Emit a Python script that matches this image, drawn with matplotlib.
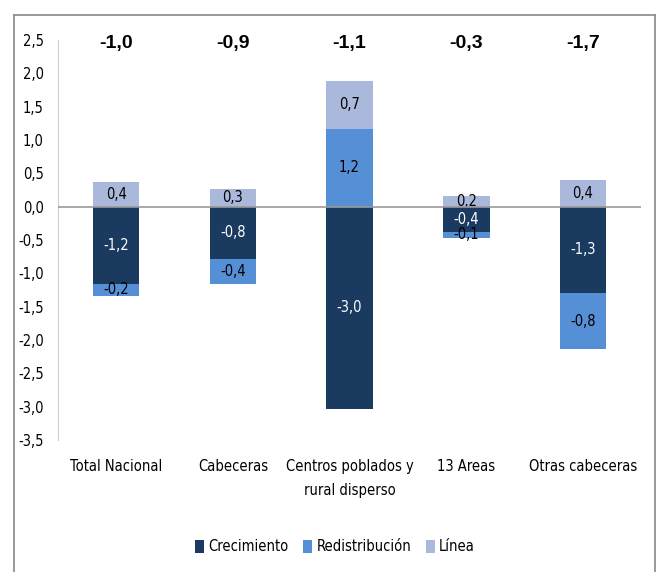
import matplotlib.pyplot as plt
from matplotlib.lines import Line2D
import numpy as np

categories = ["Total Nacional", "Cabeceras", "Centros poblados y\nrural disperso",
              "13 Areas", "Otras cabeceras"]
crecimiento = [-1.16, -0.78, -3.04, -0.38, -1.30]
redistribucion = [-0.18, -0.38, 1.17, -0.09, -0.84]
linea = [0.37, 0.26, 0.72, 0.16, 0.40]
totales = [-1.0, -0.9, -1.1, -0.3, -1.7]

series = [("Crecimiento", crecimiento, "#1b3a60", "white"),
          ("Redistribución", redistribucion, "#5590d6", "black"),
          ("Línea", linea, "#aab9db", "black")]

plt.rcParams["font.family"] = ["DejaVu Sans"]
plt.rcParams["font.stretch"] = "condensed"

fig = plt.figure(figsize=(6.57, 5.72), dpi=100)
ax = fig.add_axes([0.088, 0.231, 0.888, 0.699])

x = np.arange(len(categories))
w = 0.40
pos_base = np.zeros(len(x))
neg_base = np.zeros(len(x))
for name, vals, col, tcol in series:
    vals = np.array(vals)
    bottoms = np.where(vals >= 0, pos_base, neg_base)
    ax.bar(x, vals, w, bottom=bottoms, color=col, label=name, zorder=2)
    for xi, b, v in zip(x, bottoms, vals):
        txt = ("%.1f" % v).replace(".", ",")
        ax.text(xi, b + v / 2, txt, ha="center", va="center", color=tcol,
                fontsize=10.5, zorder=3)
    pos_base = pos_base + np.where(vals >= 0, vals, 0)
    neg_base = neg_base + np.where(vals < 0, vals, 0)

# totals above each bar
for xi, t in zip(x, totales):
    ax.text(xi, 2.45, ("%.1f" % t).replace(".", ","), ha="center", va="center",
            fontsize=14, fontweight="bold", family="Liberation Sans",
            fontstretch="normal")

ax.axhline(0, color="#999999", lw=1.2, zorder=4)
ax.set_xlim(-0.5, 4.5)
ax.set_ylim(-3.5, 2.5)
ticks = np.arange(-3.5, 2.51, 0.5)
ax.set_yticks(ticks)
ax.set_yticklabels([("%.1f" % v).replace(".", ",") for v in ticks], fontsize=10.5)
ax.set_xticks(x)
ax.set_xticklabels(categories, fontsize=10.5, linespacing=1.75)
ax.tick_params(axis="y", length=0, pad=10)
ax.tick_params(axis="x", length=0, pad=14)
for s in ["top", "right", "bottom"]:
    ax.spines[s].set_visible(False)
ax.spines["left"].set_color("#d0d0d0")

ax.legend(loc="center", bbox_to_anchor=(0.51, 0.044), bbox_transform=fig.transFigure,
          ncol=3, frameon=False, fontsize=10.5, handlelength=0.6, handleheight=1.0,
          handletextpad=0.3, columnspacing=1.0)

# outer frame of the picture
for xs, ys in [([0.021, 0.021], [0.0, 0.974]), ([0.021, 0.997], [0.974, 0.974]),
               ([0.997, 0.997], [0.0, 0.974])]:
    fig.add_artist(Line2D(xs, ys, transform=fig.transFigure, color="#888888", lw=1.2))

fig.savefig("out.png", dpi=100)
